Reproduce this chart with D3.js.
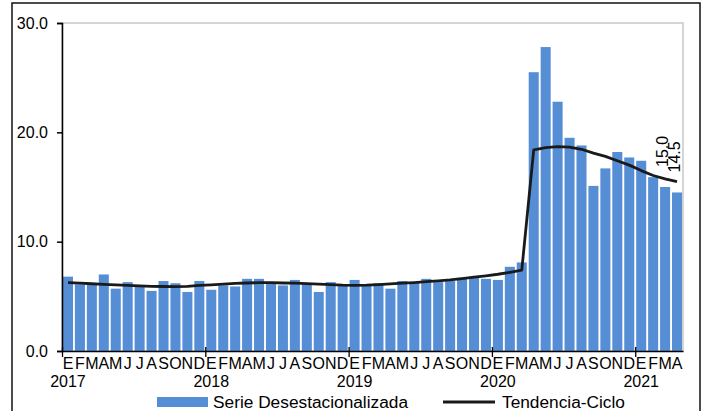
<!DOCTYPE html>
<html>
<head>
<meta charset="utf-8">
<script src="https://cdn.jsdelivr.net/npm/d3@7"></script>
<style>
  body { margin: 0; background: #fff; }
  svg { display: block; font-family: "Liberation Sans", Arial, sans-serif; }
</style>
</head>
<body>
<svg width="706" height="411"></svg>
<script>
// valores
var meses = ["E", "F", "M", "A", "M", "J", "J", "A", "S", "O", "N", "D"];
var anios = [2017, 2018, 2019, 2020, 2021];
var yTicks = [0, 10, 20, 30];

var serie = [
    6.8, 6.1, 6.2, 7.0, 5.7, 6.3, 5.9, 5.5, 6.4, 6.2, 5.4, 6.4,
    5.6, 6.0, 5.9, 6.6, 6.6, 6.2, 6.0, 6.5, 6.2, 5.4, 6.3, 6.0,
    6.5, 6.0, 6.2, 5.7, 6.4, 6.3, 6.6, 6.3, 6.4, 6.7, 6.7, 6.6,
    6.5, 7.7, 8.1, 25.5, 27.8, 22.8, 19.5, 18.8, 15.1, 16.7, 18.2, 17.7,
    17.4, 15.9, 15.0, 14.5
];

var tendencia = [
    6.25, 6.2, 6.15, 6.1, 6.05, 6.0, 5.95, 5.92, 5.9, 5.88, 5.92, 6.0,
    6.05, 6.12, 6.18, 6.22, 6.25, 6.25, 6.22, 6.2, 6.16, 6.12, 6.07, 6.02,
    6.0, 6.02, 6.08, 6.14, 6.2, 6.26, 6.34, 6.42, 6.5, 6.62, 6.75, 6.88,
    7.02, 7.2, 7.4, 18.4, 18.6, 18.7, 18.65, 18.45, 18.1, 17.8, 17.4, 17.0,
    16.5, 16.05, 15.75, 15.5
];

var etiquetas = [50, 51]; // indices con valor rotulado

var svg = d3.select("svg"),
    pLeft = 62, pRight = 683, pTop = 23, pBottom = 351,
    fs = "16px";

var n = serie.length;

var x = d3.scaleBand()
    .domain(d3.range(n))
    .range([pLeft, pRight])
    .paddingInner(0.16)
    .paddingOuter(0.08);

var xl = d3.scaleLinear().domain([0, n]).range([pLeft, pRight]);

var y = d3.scaleLinear().domain([0, 30]).range([pBottom, pTop]);

// marco exterior
svg.append("rect")
    .attr("x", 12).attr("y", 3)
    .attr("width", 688).attr("height", 430)
    .attr("fill", "none")
    .attr("stroke", "#111")
    .attr("stroke-width", 1.5);

// borde del area de trazado
svg.append("rect")
    .attr("x", pLeft).attr("y", pTop)
    .attr("width", pRight - pLeft).attr("height", pBottom - pTop)
    .attr("fill", "none")
    .attr("stroke", "#c8c8c8")
    .attr("stroke-width", 1.5);

// barras
svg.append("g").selectAll("rect")
    .data(serie)
    .enter().append("rect")
    .attr("x", function(d, i) { return x(i); })
    .attr("y", function(d) { return y(d); })
    .attr("width", x.bandwidth())
    .attr("height", function(d) { return y(0) - y(d); })
    .attr("fill", "#558ed5");

// linea de tendencia
var line = d3.line()
    .x(function(d, i) { return x(i) + x.bandwidth() / 2; })
    .y(function(d) { return y(d); });

svg.append("path")
    .datum(tendencia)
    .attr("d", line)
    .attr("fill", "none")
    .attr("stroke", "#1a1a1a")
    .attr("stroke-width", 2.8)
    .attr("stroke-linejoin", "round");

// rotulos de valores
svg.append("g").selectAll("text")
    .data(etiquetas)
    .enter().append("text")
    .attr("transform", function(i) {
        return "translate(" + (x(i) + x.bandwidth() / 2 - 3) + "," + (y(serie[i]) - 20) + ") rotate(-90)";
    })
    .attr("dy", "0.35em")
    .attr("font-size", fs)
    .attr("fill", "#000")
    .text(function(i) { return serie[i].toFixed(1); });

// eje y
var yAxis = svg.append("g")
    .attr("transform", "translate(" + pLeft + ",0)")
    .call(d3.axisLeft(y).tickValues(yTicks).tickSize(5).tickPadding(9)
        .tickFormat(function(d) { return d.toFixed(1); }));
yAxis.select(".domain").attr("stroke", "#000").attr("stroke-width", 1.5);
yAxis.selectAll(".tick line").attr("stroke-width", 1.5);
yAxis.selectAll("text").attr("font-size", fs).attr("fill", "#000")
    .attr("font-family", "Liberation Sans, Arial, sans-serif");

// eje x: meses
var xAxis = svg.append("g")
    .attr("transform", "translate(0," + pBottom + ")")
    .call(d3.axisBottom(x).tickSize(0).tickPadding(7)
        .tickFormat(function(i) { return meses[i % 12]; }));
xAxis.select(".domain").attr("stroke", "#000").attr("stroke-width", 1.5);
xAxis.selectAll("text").attr("font-size", fs).attr("fill", "#000")
    .attr("font-family", "Liberation Sans, Arial, sans-serif");

// marcas de anio
var yearTicks = svg.append("g")
    .attr("transform", "translate(0," + pBottom + ")")
    .call(d3.axisBottom(xl).tickValues([0, 12, 24, 36, 48]).tickSize(6).tickFormat(""));
yearTicks.select(".domain").remove();
yearTicks.selectAll(".tick line").attr("y1", -4).attr("stroke-width", 1.3);

// anios
svg.append("g").selectAll("text")
    .data(anios)
    .enter().append("text")
    .attr("x", function(d, k) { return x(k * 12) + x.bandwidth() / 2; })
    .attr("y", 387)
    .attr("text-anchor", "middle")
    .attr("font-size", fs)
    .text(function(d) { return d; });

// leyenda
var legend = svg.append("g");
legend.append("rect")
    .attr("x", 157).attr("y", 397)
    .attr("width", 51).attr("height", 10)
    .attr("fill", "#558ed5");
legend.append("text")
    .attr("x", 213).attr("y", 408)
    .attr("font-size", "17.3px")
    .text("Serie Desestacionalizada");
legend.append("line")
    .attr("x1", 443).attr("x2", 495)
    .attr("y1", 402).attr("y2", 402)
    .attr("stroke", "#1a1a1a")
    .attr("stroke-width", 2.8);
legend.append("text")
    .attr("x", 502).attr("y", 408)
    .attr("font-size", "17.3px")
    .text("Tendencia-Ciclo");
</script>
</body>
</html>
